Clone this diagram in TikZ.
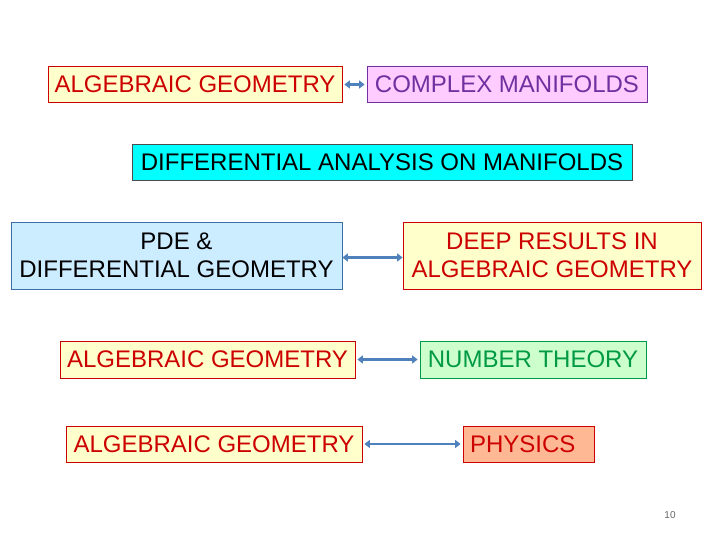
\documentclass[tikz,border=0pt]{standalone}
\usepackage{fontspec}
\setmainfont{Liberation Sans}
\usetikzlibrary{arrows.meta}
\definecolor{redtxt}{HTML}{CC0000}
\definecolor{yfill}{HTML}{FFFFCC}
\definecolor{pfill}{HTML}{FFCCFF}
\definecolor{ptxt}{HTML}{7030A0}
\definecolor{cfill}{HTML}{00FFFF}
\definecolor{bfill}{HTML}{CCECFF}
\definecolor{bdraw}{HTML}{3A6EA5}
\definecolor{gfill}{HTML}{CCFFCC}
\definecolor{gtxt}{HTML}{009944}
\definecolor{ofill}{HTML}{FFB894}
\definecolor{arr}{HTML}{4F81BD}
\tikzset{
  bx/.style={rectangle, inner sep=0pt, font=\fontsize{24}{28}\selectfont, line width=0.8pt},
  ybox/.style={bx, fill=yfill, draw=redtxt, text=redtxt},
  link/.style={arr, line width=2.4pt, {Triangle[width=8pt,length=5.5pt]}-{Triangle[width=8pt,length=5.5pt]}}
}
\begin{document}
\begin{tikzpicture}[x=1pt,y=-1pt]
\useasboundingbox (0,0) rectangle (720,540);
\node[ybox, minimum width=294pt, minimum height=36pt] (ag1) at (195,84.5) {ALGEBRAIC GEOMETRY};
\node[bx, fill=pfill, draw=ptxt, text=ptxt, minimum width=280pt, minimum height=36pt] (cm) at (507,84.5) {COMPLEX MANIFOLDS};
\node[bx, fill=cfill, draw=black!70, minimum width=500pt, minimum height=36pt] (da) at (382,162) {DIFFERENTIAL ANALYSIS ON MANIFOLDS};
\node[bx, fill=bfill, draw=bdraw, minimum width=331pt, minimum height=67pt, align=center] (pde) at (176.5,255.5) {PDE \&\\DIFFERENTIAL GEOMETRY};
\node[ybox, minimum width=298pt, minimum height=67pt, align=center] (deep) at (552,255.5) {DEEP RESULTS IN\\ALGEBRAIC GEOMETRY};
\node[ybox, minimum width=295pt, minimum height=37pt] (ag3) at (207.5,359.5) {ALGEBRAIC GEOMETRY};
\node[bx, fill=gfill, draw=gtxt, text=gtxt, minimum width=226pt, minimum height=37pt] (nt) at (533,359.5) {NUMBER THEORY};
\node[ybox, minimum width=296pt, minimum height=36pt] (ag4) at (214,444) {ALGEBRAIC GEOMETRY};
\node[ybox, fill=ofill, minimum height=36pt, text width=117pt, inner xsep=7pt, align=left] (ph) at (528.5,444) {PHYSICS};
\node[font=\fontsize{10}{12}\selectfont, text=black!60] (pg) at (670,515) {10};
\draw[link] ([xshift=2pt]ag1.east) -- ([xshift=-2pt]cm.west);
\draw[link] ([yshift=-2pt]pde.east) -- ([yshift=-2pt]deep.west);
\draw[link] ([xshift=2pt]ag3.east) -- ([xshift=-2pt]nt.west);
\draw[link] ([xshift=2pt]ag4.east) -- ([xshift=-2pt]ph.west);
\end{tikzpicture}
\end{document}
